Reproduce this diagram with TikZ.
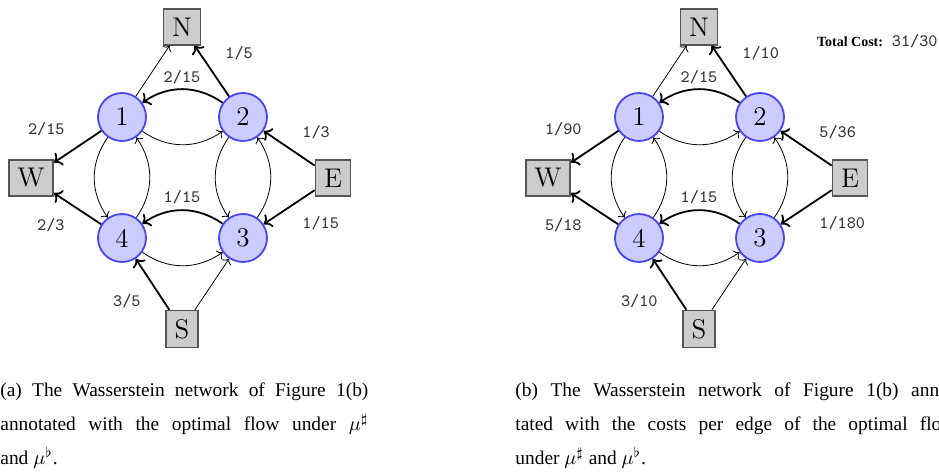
\documentclass[tikz,border=0pt]{standalone}
\usepackage{fontspec}
\usepackage{tikz}
\usetikzlibrary{arrows.meta}
\newfontfamily\capfont{Liberation Serif}
\definecolor{nodeBlue}{HTML}{CCCCFF}
\definecolor{nodeRim}{HTML}{4646F5}
\definecolor{boxGray}{HTML}{CCCCCC}
\definecolor{boxRim}{HTML}{555555}

\begin{document}
\begin{tikzpicture}[
    x=0.5pt, y=-0.5pt,
    place/.style={circle, minimum size=24pt, inner sep=0pt,
                  draw=nodeRim, line width=0.9pt, fill=nodeBlue,
                  font=\fontsize{13.5}{16}\selectfont},
    term/.style={rectangle, inner sep=4.3pt,
                 draw=boxRim, line width=0.8pt, fill=boxGray,
                 font=\fontsize{13.5}{16}\selectfont},
    flow/.style={->, line width=0.4pt},
    used/.style={->, line width=0.9pt},
    wt/.style={font=\fontsize{8.7}{10}\selectfont\ttfamily, text=black!80, inner sep=1pt},
    subcap/.style={anchor=base west, inner sep=0pt, align=justify,
                font=\capfont\fontsize{9.7}{17}\selectfont},
  ]
  \useasboundingbox (0,0) rectangle (939,475);
  \clip (0,0) rectangle (939,475);

  % ---------- the same network twice: (a) at 0, (b) shifted right ----------
  \foreach \p/\dx in {a/0, b/517}{
    \begin{scope}[shift={(\dx,0)}]
      \node[term]  (\p N) at (182,27)  {N};
      \node[term]  (\p W) at (31,178)  {W};
      \node[term]  (\p E) at (333,178) {E};
      \node[term]  (\p S) at (182,329) {S};
      \node[place] (\p1)  at (122,117) {1};
      \node[place] (\p2)  at (243,117) {2};
      \node[place] (\p3)  at (243,238) {3};
      \node[place] (\p4)  at (122,238) {4};

      % edges carrying flow
      \draw[used] (\p2) -- (\p N);
      \draw[used] (\p2) to[bend right=35] (\p1);
      \draw[used] (\p1) -- (\p W);
      \draw[used] (\p4) -- (\p W);
      \draw[used] (\p E) -- (\p2);
      \draw[used] (\p E) -- (\p3);
      \draw[used] (\p3) to[bend right=35] (\p4);
      \draw[used] (\p S) -- (\p4);

      % unused edges
      \draw[flow] (\p1) -- (\p N);
      \draw[flow] (\p1) to[bend right=35] (\p2);
      \draw[flow] (\p1) to[bend right=35] (\p4);
      \draw[flow] (\p4) to[bend right=35] (\p1);
      \draw[flow] (\p2) to[bend right=35] (\p3);
      \draw[flow] (\p3) to[bend right=35] (\p2);
      \draw[flow] (\p4) to[bend right=35] (\p3);
      \draw[flow] (\p S) -- (\p3);
    \end{scope}
  }

  % ---------- (a) optimal flow ----------
  \node[wt]              (a-l21) at (182,77)  {2/15};
  \node[wt, anchor=west] (a-l2N) at (223,53)  {1/5};
  \node[wt, anchor=east] (a-l1W) at (67,129)  {2/15};
  \node[wt, anchor=west] (a-lE2) at (300,132) {1/3};
  \node[wt]              (a-l34) at (182,197) {1/15};
  \node[wt, anchor=east] (a-l4W) at (67,225)  {2/3};
  \node[wt, anchor=west] (a-lE3) at (300,223) {1/15};
  \node[wt, anchor=east] (a-lS4) at (143,301) {3/5};

  % ---------- (b) costs per edge ----------
  \begin{scope}[shift={(517,0)}]
    \node[wt]              (b-l21) at (182,77)  {2/15};
    \node[wt, anchor=west] (b-l2N) at (223,53)  {1/10};
    \node[wt, anchor=east] (b-l1W) at (67,129)  {1/90};
    \node[wt, anchor=west] (b-lE2) at (300,132) {5/36};
    \node[wt]              (b-l34) at (182,197) {1/15};
    \node[wt, anchor=east] (b-l4W) at (67,225)  {5/18};
    \node[wt, anchor=west] (b-lE3) at (300,223) {1/180};
    \node[wt, anchor=east] (b-lS4) at (143,301) {3/10};
  \end{scope}
  \node[anchor=east, inner sep=0pt] (cost) at (938,41)
    {{\capfont\fontsize{7}{8}\selectfont\bfseries Total Cost:}
     {\fontsize{8.7}{10}\selectfont\ttfamily\color{black!80}31/30}};

  % ---------- captions ----------
  \node[subcap, text width=184pt] (capa) at (0,397)
    {(a) The Wasserstein network of Figure 1(b)\linebreak
     annotated with the optimal flow under $\mu^\sharp$\linebreak
     and $\mu^\flat$.};
  \node[subcap, text width=220pt] (capb) at (515,397)
    {(b) The Wasserstein network of Figure 1(b) anno-\linebreak
     tated with the costs per edge of the optimal flow\linebreak
     under $\mu^\sharp$ and $\mu^\flat$.};
\end{tikzpicture}
\end{document}
